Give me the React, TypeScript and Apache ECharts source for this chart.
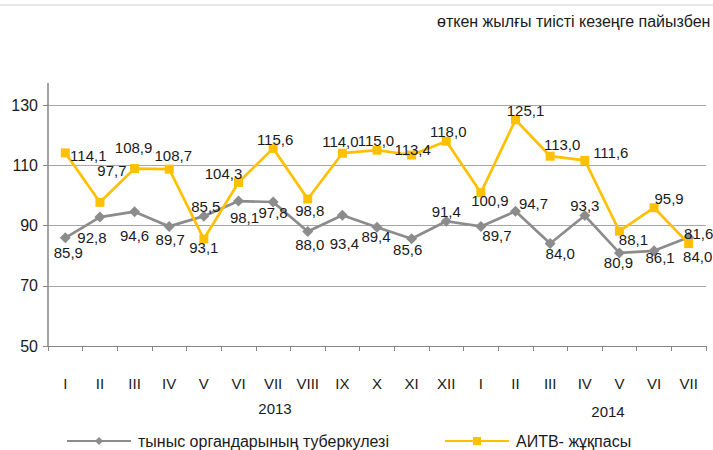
import React, { useEffect, useRef } from "react";
import * as echarts from "echarts";

const categories = ["I", "II", "III", "IV", "V", "VI", "VII", "VIII", "IX", "X", "XI", "XII", "I", "II", "III", "IV", "V", "VI", "VII"];
const tbValues = [85.9, 92.8, 94.6, 89.7, 93.1, 98.1, 97.8, 88.0, 93.4, 89.4, 85.6, 91.4, 89.7, 94.7, 84.0, 93.3, 80.9, 81.6, 86.1];
const hivValues = [114.1, 97.7, 108.9, 108.7, 85.5, 104.3, 115.6, 98.8, 114.0, 115.0, 113.4, 118.0, 100.9, 125.1, 113.0, 111.6, 88.1, 95.9, 84.0];
const tbLabels = ["85,9", "92,8", "94,6", "89,7", "85,5", "98,1", "97,8", "88,0", "93,4", "89,4", "85,6", "91,4", "89,7", "94,7", "84,0", "93,3", "80,9", "86,1", "81,6"];
const hivLabels = ["114,1", "97,7", "108,9", "108,7", "93,1", "104,3", "115,6", "98,8", "114,0", "115,0", "113,4", "118,0", "100,9", "125,1", "113,0", "111,6", "88,1", "95,9", "84,0"];
const seriesNames = ["тыныс органдарының туберкулезі", "АИТВ- жұқпасы"];
const years = ["2013", "2014"];
const subtitle = "өткен жылғы тиісті кезеңге пайызбен";

// label placement (px offsets from the marker centre)
const tbOffsets: number[][] = [
  [3, 15], [-8, 20], [0, 24], [1, 13], [2, -10], [6, 16], [0, 10], [2, 13], [2, 28],
  [-1, 9], [-4, 11], [0, -10], [16, 9], [18, -8], [10, 10], [0, -10], [-1, 10], [6, 7], [10, -4],
];
const hivOffsets: number[][] = [
  [23, 3], [12, -32], [-1, -21], [4, -14], [0, 8], [-15, -9], [2, -9], [2, 12], [-2, -12],
  [-1, -10], [1, -6], [2, -10], [9, 8], [10, -9], [12, -12], [26, -8], [14, 8], [15, -9], [9, 13],
];

const FONT = "Liberation Sans, Arial, sans-serif";
const TEXT = "#1a1a1a";
const GRAY = "#8c8c8c";
const YELLOW = "#ffc000";

export default function App() {
  const ref = useRef<HTMLDivElement>(null);
  useEffect(() => {
    if (!ref.current) return;
    const chart = echarts.init(ref.current, null, { renderer: "svg" });
    const mk = (vals: number[], labels: string[], offs: number[][]) =>
      vals.map((v, i) => ({
        value: v,
        label: { offset: offs[i], formatter: labels[i] },
      }));
    const legendBase = {
      top: 433,
      padding: 0,
      itemWidth: 64,
      itemHeight: 10,
      itemGap: 6,
      textStyle: { fontSize: 16, color: TEXT, fontFamily: FONT, padding: [0, 0, 0, 2] },
    };
    chart.setOption({
      animation: false,
      textStyle: { fontFamily: FONT },
      grid: { left: 48, right: 7, top: 105, bottom: 104, containLabel: false },
      legend: [
        { ...legendBase, data: [seriesNames[0]], left: 66 },
        { ...legendBase, data: [seriesNames[1]], left: 444 },
      ],
      xAxis: {
        type: "category",
        data: categories,
        boundaryGap: true,
        axisLine: { lineStyle: { color: "#868686", width: 1 } },
        axisTick: { show: true, length: 5, lineStyle: { color: "#868686" } },
        axisLabel: { fontSize: 15, color: TEXT, margin: 30, fontFamily: FONT, interval: 0 },
      },
      yAxis: {
        type: "value",
        min: 50,
        max: 130,
        interval: 20,
        axisLine: { show: true, lineStyle: { color: "#868686", width: 1.5 } },
        axisTick: { show: true, length: 5, inside: false, lineStyle: { color: "#868686" } },
        axisLabel: { fontSize: 16, color: TEXT, margin: 10, fontFamily: FONT },
        splitLine: { show: true, lineStyle: { color: "#a6a6a6", width: 1 } },
      },
      graphic: [
        { type: "line", shape: { x1: 0, y1: 5, x2: 713, y2: 5 }, style: { stroke: "#e6e6e6", lineWidth: 2 } },
        { type: "line", shape: { x1: 48, y1: 83, x2: 48, y2: 105 }, style: { stroke: "#868686", lineWidth: 1.5 } },
        {
          type: "text",
          x: 437,
          y: 21,
          style: { text: subtitle, font: `16px ${FONT}`, fill: TEXT, textVerticalAlign: "middle" },
        },
        {
          type: "text",
          x: 275,
          y: 408,
          style: { text: years[0], font: `15px ${FONT}`, fill: TEXT, textAlign: "center", textVerticalAlign: "middle" },
        },
        {
          type: "text",
          x: 608,
          y: 411,
          style: { text: years[1], font: `15px ${FONT}`, fill: TEXT, textAlign: "center", textVerticalAlign: "middle" },
        },
      ],
      series: [
        {
          name: seriesNames[0],
          type: "line",
          data: mk(tbValues, tbLabels, tbOffsets),
          symbol: "diamond",
          symbolSize: 11,
          lineStyle: { color: GRAY, width: 2.7 },
          itemStyle: { color: GRAY },
          label: { show: true, position: "inside", fontSize: 15, color: TEXT, fontFamily: FONT },
          z: 2,
        },
        {
          name: seriesNames[1],
          type: "line",
          data: mk(hivValues, hivLabels, hivOffsets),
          symbol: "rect",
          symbolSize: 9,
          lineStyle: { color: YELLOW, width: 2.7 },
          itemStyle: { color: YELLOW },
          label: { show: true, position: "inside", fontSize: 15, color: TEXT, fontFamily: FONT },
          z: 3,
        },
      ],
    });
    return () => chart.dispose();
  }, []);
  return (
    <div
      ref={ref}
      style={{ position: "fixed", left: 0, top: 0, width: 713, height: 450, background: "#fff" }}
    />
  );
}
